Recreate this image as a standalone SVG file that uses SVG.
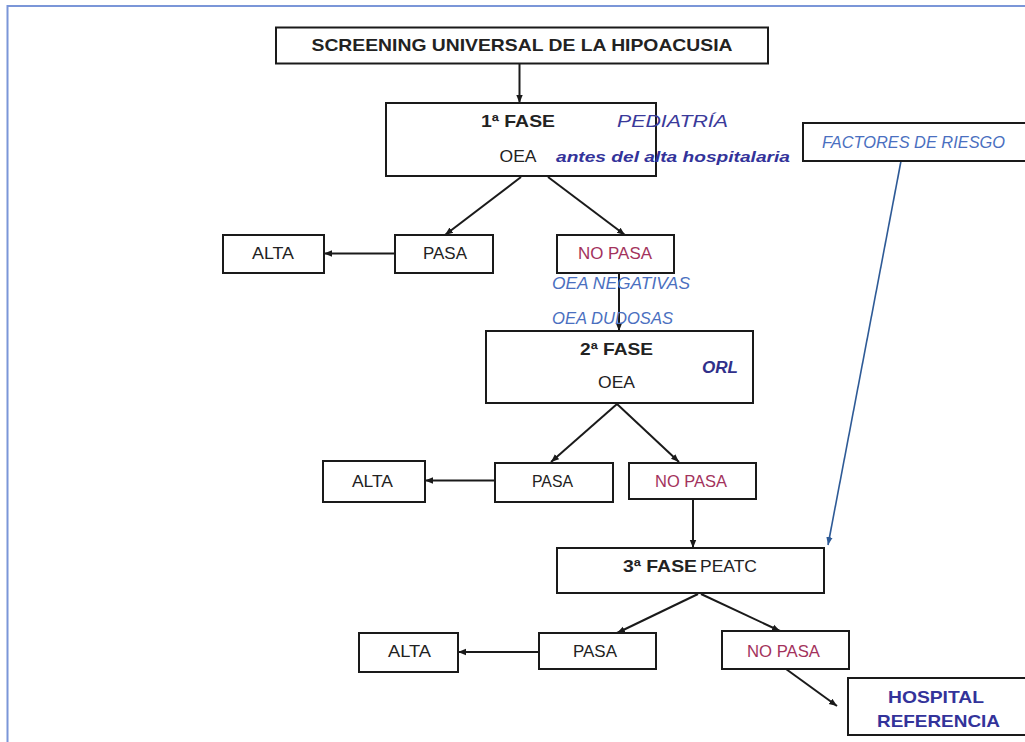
<svg xmlns="http://www.w3.org/2000/svg" width="1025" height="742" viewBox="0 0 1025 742">
<defs>
<marker id="ah" viewBox="0 0 10 10" refX="10" refY="5" markerWidth="8" markerHeight="8" orient="auto" markerUnits="userSpaceOnUse">
<path d="M0,1 L10,5 L0,9 z" fill="#1a1a1a"/>
</marker>
<marker id="ahb" viewBox="0 0 10 10" refX="10" refY="5" markerWidth="8" markerHeight="8" orient="auto" markerUnits="userSpaceOnUse">
<path d="M0,1 L10,5 L0,9 z" fill="#2e5a96"/>
</marker>
</defs>
<style>
.box{fill:#fff;stroke:#1a1a1a;stroke-width:2}
.t{font-family:"Liberation Sans",Arial,sans-serif;font-size:17px;fill:#222;text-anchor:middle}
.s{text-anchor:start}
.b{font-weight:bold}
.np{fill:#a3325c}
.ann{font-family:"Liberation Sans",Arial,sans-serif;font-style:italic;font-size:16px;fill:#4a6fc0}
.pur{fill:#33339a}
.edge{stroke:#1a1a1a;stroke-width:2;fill:none;marker-end:url(#ah)}
.edgeb{stroke:#2e5a96;stroke-width:1.6;fill:none;marker-end:url(#ahb)}
</style>
<rect width="1025" height="742" fill="#fff"/>
<path d="M7.5,742 V6 H1025" fill="none" stroke="#7b96d8" stroke-width="2"/>

<g id="connectors">
<path class="edge" d="M519.5,63 V103"/>
<path class="edge" d="M521,177 L445,235"/>
<path class="edge" d="M548,177 L625,235"/>
<path class="edge" d="M395,253.5 H324"/>
<path class="edge" d="M619,273 V331"/>
<path class="edge" d="M617,404 L551,462"/>
<path class="edge" d="M617,404 L679,462"/>
<path class="edge" d="M495,480.5 H425"/>
<path class="edge" d="M693,499 V548"/>
<path class="edgeb" d="M901,161 L828,545"/>
<path class="edge" d="M698,594 L617,633"/>
<path class="edge" d="M701,594 L780,631"/>
<path class="edge" d="M539,652 H458"/>
<path class="edge" d="M786,669 L837,706"/>
</g>

<g id="title">
<rect class="box" x="276" y="27.5" width="492" height="36"/>
<text class="t b" x="522" y="51" textLength="421" lengthAdjust="spacingAndGlyphs">SCREENING UNIVERSAL DE LA HIPOACUSIA</text>
</g>

<g id="fase1">
<rect class="box" x="386" y="103" width="270" height="73"/>
<text class="t b" x="518" y="127" textLength="74" lengthAdjust="spacingAndGlyphs">1ª FASE</text>
<text class="t" x="518" y="162" textLength="37" lengthAdjust="spacingAndGlyphs">OEA</text>
</g>

<g id="factores">
<rect class="box" x="803" y="123" width="240" height="38"/>
<text class="ann s" x="822" y="148" textLength="183" lengthAdjust="spacingAndGlyphs">FACTORES DE RIESGO</text>
</g>

<g id="alta1">
<rect class="box" x="223" y="235" width="101" height="38"/>
<text class="t" x="273" y="259" textLength="42" lengthAdjust="spacingAndGlyphs">ALTA</text>
</g>
<g id="pasa1">
<rect class="box" x="395" y="235" width="98" height="38"/>
<text class="t" x="445" y="259" textLength="44" lengthAdjust="spacingAndGlyphs">PASA</text>
</g>
<g id="nopasa1">
<rect class="box" x="557" y="235" width="117" height="38"/>
<text class="t np" x="615" y="259" textLength="74" lengthAdjust="spacingAndGlyphs">NO PASA</text>
</g>

<g id="fase2">
<rect class="box" x="486" y="331" width="267" height="72"/>
<text class="t b" x="616.5" y="355" textLength="73" lengthAdjust="spacingAndGlyphs">2ª FASE</text>
<text class="t" x="616.5" y="388" textLength="37" lengthAdjust="spacingAndGlyphs">OEA</text>
</g>

<g id="alta2">
<rect class="box" x="323" y="461" width="102" height="41"/>
<text class="t" x="372.5" y="487" textLength="41" lengthAdjust="spacingAndGlyphs">ALTA</text>
</g>
<g id="pasa2">
<rect class="box" x="495" y="463" width="118" height="39"/>
<text class="t" x="552.5" y="487" textLength="41" lengthAdjust="spacingAndGlyphs">PASA</text>
</g>
<g id="nopasa2">
<rect class="box" x="629" y="463" width="127" height="36"/>
<text class="t np" x="691" y="487" textLength="72" lengthAdjust="spacingAndGlyphs">NO PASA</text>
</g>

<g id="fase3">
<rect class="box" x="557" y="548" width="267" height="45"/>
<text class="t b s" x="623" y="572" textLength="74" lengthAdjust="spacingAndGlyphs">3ª FASE</text>
<text class="t s" x="700" y="572" textLength="57" lengthAdjust="spacingAndGlyphs">PEATC</text>
</g>

<g id="alta3">
<rect class="box" x="359" y="633" width="99" height="39"/>
<text class="t" x="409.5" y="657" textLength="43" lengthAdjust="spacingAndGlyphs">ALTA</text>
</g>
<g id="pasa3">
<rect class="box" x="539" y="633" width="117" height="36"/>
<text class="t" x="595" y="657" textLength="44" lengthAdjust="spacingAndGlyphs">PASA</text>
</g>
<g id="nopasa3">
<rect class="box" x="722" y="631" width="127" height="38"/>
<text class="t np" x="783.5" y="657" textLength="73" lengthAdjust="spacingAndGlyphs">NO PASA</text>
</g>

<g id="hospital">
<rect class="box" x="848" y="678" width="200" height="57"/>
<text class="t b pur" x="936" y="703" textLength="96" lengthAdjust="spacingAndGlyphs">HOSPITAL</text>
<text class="t b pur" x="938.5" y="727" textLength="123" lengthAdjust="spacingAndGlyphs">REFERENCIA</text>
</g>

<g id="annotations">
<text class="ann s" x="617" y="127" fill="#3a3a9a" style="fill:#3a3a9a;font-size:17px" textLength="111" lengthAdjust="spacingAndGlyphs">PEDIATRÍA</text>
<text class="ann s" x="556" y="162" style="fill:#33339a;font-weight:bold;font-size:15px" textLength="234" lengthAdjust="spacingAndGlyphs">antes del alta hospitalaria</text>
<text class="ann s" x="552" y="289" textLength="138" lengthAdjust="spacingAndGlyphs">OEA NEGATIVAS</text>
<text class="ann s" x="552" y="324" textLength="121" lengthAdjust="spacingAndGlyphs">OEA DUDOSAS</text>
<text class="ann s" x="702" y="373" style="fill:#30308a;font-weight:bold" textLength="36" lengthAdjust="spacingAndGlyphs">ORL</text>
</g>
</svg>
